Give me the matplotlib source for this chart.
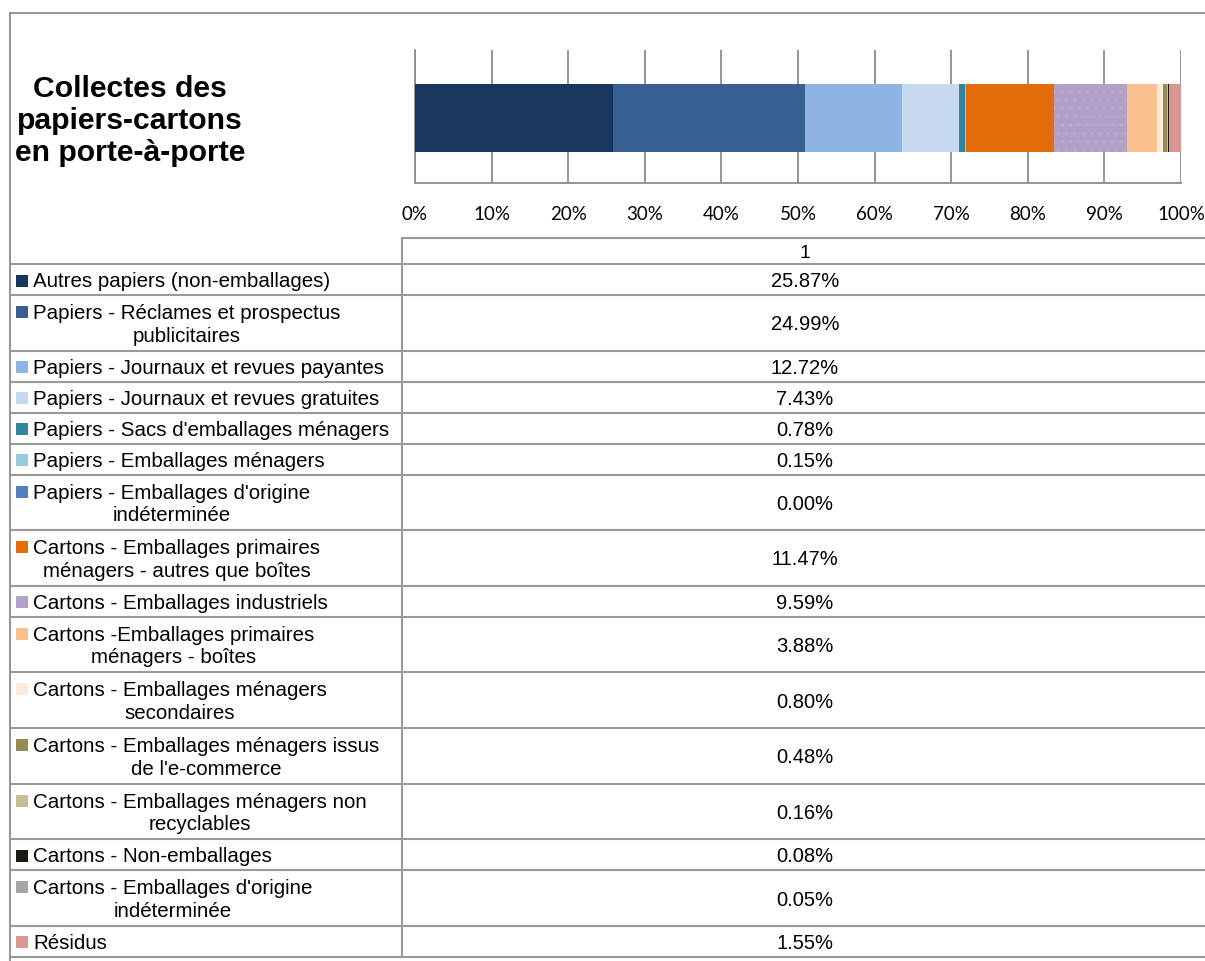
import matplotlib
matplotlib.use("Agg")
import matplotlib.pyplot as plt

# ---------------- data ----------------
categories = [
    "Autres papiers (non-emballages)",
    "Papiers - Réclames et prospectus\npublicitaires",
    "Papiers - Journaux et revues payantes",
    "Papiers - Journaux et revues gratuites",
    "Papiers - Sacs d'emballages ménagers",
    "Papiers - Emballages ménagers",
    "Papiers - Emballages d'origine\nindéterminée",
    "Cartons - Emballages primaires\nménagers - autres que boîtes",
    "Cartons - Emballages industriels",
    "Cartons -Emballages primaires\nménagers - boîtes",
    "Cartons - Emballages ménagers\nsecondaires",
    "Cartons - Emballages ménagers issus\nde l'e-commerce",
    "Cartons - Emballages ménagers non\nrecyclables",
    "Cartons - Non-emballages",
    "Cartons - Emballages d'origine\nindéterminée",
    "Résidus",
]
values = [25.87, 24.99, 12.72, 7.43, 0.78, 0.15, 0.00, 11.47,
          9.59, 3.88, 0.80, 0.48, 0.16, 0.08, 0.05, 1.55]
colors = ["#19375E", "#376092", "#8EB4E3", "#C6D9F1", "#31859C", "#93CDDD",
          "#4F81BD", "#E46C0A", "#B2A1C7", "#FAC090", "#FDEADA", "#948A54",
          "#C4BD97", "#1D1B10", "#A6A6A6", "#D99694"]
x_ticks = [0, 10, 20, 30, 40, 50, 60, 70, 80, 90, 100]
x_ticklabels = ["0%", "10%", "20%", "30%", "40%", "50%", "60%", "70%", "80%", "90%", "100%"]
series_name = "1"
title = "Collectes des\npapiers-cartons\nen porte-à-porte"

# ---------------- figure ----------------
W, H = 1205, 962
fig = plt.figure(figsize=(W / 100, H / 100), dpi=100)
fig.patch.set_facecolor("white")

# overlay axes in pixel coordinates
ov = fig.add_axes([0, 0, 1, 1])
ov.set_xlim(0, W)
ov.set_ylim(H, 0)
ov.axis("off")

line_col = "#8C8C8C"
# outer frame
ov.plot([10, W], [14, 14], color=line_col, lw=1.3)
ov.plot([10, 10], [14, H], color=line_col, lw=1.3)

# title
ov.text(130, 121, title, ha="center", va="center", multialignment="center",
        fontsize=21.7, fontweight="bold", family="Liberation Sans",
        linespacing=1.2, color="black")

# ---------------- bar chart ----------------
pl, pr, pt, pb = 415, 1181, 51, 184
bax = fig.add_axes([pl / W, 1 - pb / H, (pr - pl) / W, (pb - pt) / H])
left = 0.0
for v, c in zip(values, colors):
    if c == "#B2A1C7":
        bax.barh(0.489, v, left=left, height=0.511, color=c,
                 edgecolor="#B9AACD", hatch="..", linewidth=0, zorder=3)
    else:
        bax.barh(0.489, v, left=left, height=0.511, color=c,
                 linewidth=0, zorder=3)
    left += v
bax.set_xlim(0, 100)
bax.set_ylim(0, 1)
bax.set_xticks(x_ticks)
bax.set_xticklabels(x_ticklabels, family="Lato", fontsize=13.5, color="black")
bax.set_yticks([])
bax.grid(axis="x", color="#8C8C8C", lw=1.3, zorder=0)
bax.tick_params(axis="x", length=0, pad=16)
for s in ["top", "right"]:
    bax.spines[s].set_visible(False)
bax.spines["left"].set_color("#8C8C8C")
bax.spines["bottom"].set_color("#8C8C8C")
bax.spines["left"].set_linewidth(1.3)
bax.spines["bottom"].set_linewidth(1.3)
bax.set_facecolor("none")

# ---------------- data table ----------------
tcol = "#9A9A9A"
tlw = 1.5
div_x = 402
hdr_top, hdr_bot = 239, 265
single_h, double_h = 31, 55.6

ov.plot([div_x, W], [hdr_top, hdr_top], color=tcol, lw=tlw)
ov.plot([10, W], [hdr_bot, hdr_bot], color=tcol, lw=tlw)
ov.text((div_x + 1208) / 2, (hdr_top + hdr_bot) / 2 + 1.5, series_name,
        ha="center", va="center", fontsize=14, family="Liberation Sans")

y = hdr_bot
row_bounds = []
for cat in categories:
    h = double_h if "\n" in cat else single_h
    row_bounds.append((y, y + h))
    y += h
ov.plot([div_x, div_x], [hdr_top, y], color=tcol, lw=tlw)

for (y0, y1), cat, v, c in zip(row_bounds, categories, values, colors):
    ov.plot([10, W], [y1, y1], color=tcol, lw=tlw)
    two = "\n" in cat
    first_c = y0 + 16.5 if two else (y0 + y1) / 2 + 0.5
    ov.add_patch(plt.Rectangle((16, first_c - 5.5), 12, 12, color=c, lw=0))
    ov.text(33, (y0 + y1) / 2 + 1, cat, ha="left", va="center",
            multialignment="center", fontsize=14.8, family="Liberation Sans",
            linespacing=1.25, color="black")
    ov.text(805, (y0 + y1) / 2 + 1, f"{v:.2f}%", ha="center", va="center",
            fontsize=14.5, family="Liberation Sans", color="black")

fig.savefig("out.png", dpi=100, facecolor="white")
